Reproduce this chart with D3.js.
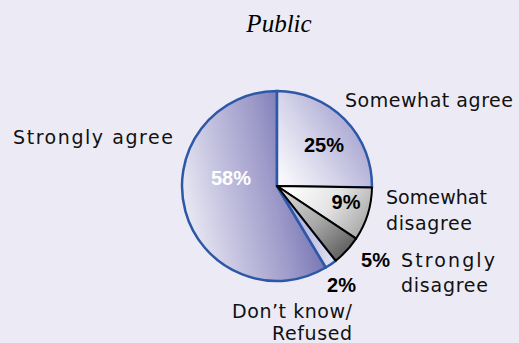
<!DOCTYPE html>
<html>
<head>
<meta charset="utf-8">
<script src="https://cdn.jsdelivr.net/npm/d3@7"></script>
<style>
  html, body { margin: 0; padding: 0; background: #ecebf5; }
  svg { display: block; }
</style>
</head>
<body>
<svg id="chart" width="519" height="343"></svg>
<script>
// ---- data ----
const title = "Public";
const categories = ["Somewhat agree", "Somewhat disagree", "Strongly disagree", "Don\u2019t know/ Refused", "Strongly agree"];
const values = [25, 9, 5, 2, 58];
const valueLabels = ["25%", "9%", "5%", "2%", "58%"];

// ---- layout / style ----
const W = 519, H = 343;
const cx = 277, cy = 186, R = 95;

const svg = d3.select("#chart");
svg.append("rect").attr("width", W).attr("height", H).attr("fill", "#ecebf5");

const defs = svg.append("defs");
const grads = [
  { id: "g0", x1: 0, y1: 1, x2: 1, y2: 0.35, stops: [[0, "#ffffff"], [0.45, "#d6d5ea"], [1, "#9e9ccb"]] },
  { id: "g1", x1: 0, y1: 0.3, x2: 1, y2: 0.7, stops: [[0, "#ffffff"], [0.5, "#e4e4e4"], [1, "#a6a6a6"]] },
  { id: "g2", x1: 0, y1: 0, x2: 1, y2: 1, stops: [[0, "#e2e2e2"], [0.5, "#a8a8a8"], [1, "#4a4a4a"]] },
  { id: "g3", x1: 0, y1: 0, x2: 1, y2: 0, stops: [[0, "#a5a4d2"], [0.5, "#bdbce0"], [1, "#e6e6f3"]] },
  { id: "g4", x1: 0, y1: 0.65, x2: 1, y2: 0.35, stops: [[0, "#ececf5"], [0.3, "#c4c2df"], [0.6, "#9f9bca"], [0.85, "#7876b4"], [1, "#4a5ea6"]] }
];
grads.forEach(g => {
  const lg = defs.append("linearGradient").attr("id", g.id)
    .attr("x1", g.x1).attr("y1", g.y1).attr("x2", g.x2).attr("y2", g.y2);
  g.stops.forEach(s => lg.append("stop").attr("offset", s[0]).attr("stop-color", s[1]));
});
const strokes = ["#2d57a7", "#000000", "#000000", "#2d57a7", "#2d57a7"];

const pie = d3.pie().sort(null).value(d => d.value);
const data = categories.map((c, i) => ({ cat: c, value: values[i], label: valueLabels[i], i }));
const arcs = pie(data);
const arc = d3.arc().innerRadius(0).outerRadius(R);

const g = svg.append("g").attr("transform", `translate(${cx},${cy})`);
// draw blue-outlined slices first, black-outlined ones on top
const order = [4, 0, 3, 1, 2];
g.selectAll("path.slice").data(order.map(i => arcs[i])).enter().append("path")
  .attr("class", "slice")
  .attr("d", arc)
  .attr("fill", d => `url(#g${d.data.i})`)
  .attr("stroke", d => strokes[d.data.i])
  .attr("stroke-width", d => strokes[d.data.i] === "#000000" ? 2 : 2.5)
  .attr("stroke-linejoin", "round");

// title
svg.append("text").attr("x", 279).attr("y", 32)
  .attr("text-anchor", "middle")
  .style("font-family", "'Liberation Serif', 'Times New Roman', serif")
  .style("font-style", "italic").style("font-size", "25px").attr("fill", "#000")
  .text(title);

// percent labels (offsets relative to pie centre)
const pctPos = [
  { dx: 47, dy: -34, anchor: "middle", fill: "#000" },
  { dx: 69, dy: 23, anchor: "middle", fill: "#000" },
  { dx: 113, dy: 81, anchor: "end", fill: "#000" },
  { dx: 79, dy: 106, anchor: "end", fill: "#000" },
  { dx: -46, dy: -1, anchor: "middle", fill: "#fff" }
];
g.selectAll("text.pct").data(arcs).enter().append("text")
  .attr("class", "pct")
  .attr("x", d => pctPos[d.data.i].dx)
  .attr("y", d => pctPos[d.data.i].dy)
  .attr("text-anchor", d => pctPos[d.data.i].anchor)
  .attr("fill", d => pctPos[d.data.i].fill)
  .style("font-family", "'Liberation Sans', Arial, sans-serif")
  .style("font-weight", "bold").style("font-size", "20px")
  .text(d => d.data.label);

// category labels (text, line offsets, and rendered widths)
const catLayout = [
  { dx: 68, dy: -79, anchor: "start", lines: ["Somewhat agree"], widths: [168], gap: 0 },
  { dx: 109, dy: 18, anchor: "start", lines: ["Somewhat", "disagree"], widths: [101, 86], gap: 25.5 },
  { dx: 124, dy: 81, anchor: "start", lines: ["Strongly", "disagree"], widths: [94, 87], gap: 25 },
  { dx: 75, dy: 132, anchor: "end", lines: ["Don\u2019t know/", "Refused"], widths: [120, 80], gap: 21.5 },
  { dx: -264, dy: -42, anchor: "start", lines: ["Strongly agree"], widths: [160], gap: 0 }
];
arcs.forEach(d => {
  const L = catLayout[d.data.i];
  L.lines.forEach((ln, k) => {
    g.append("text")
      .attr("x", L.dx).attr("y", L.dy + k * L.gap)
      .attr("text-anchor", L.anchor)
      .attr("fill", "#111")
      .attr("textLength", L.widths[k])
      .attr("lengthAdjust", "spacing")
      .style("font-family", "'DejaVu Sans', Verdana, sans-serif")
      .style("font-size", "19px")
      .text(ln);
  });
});
</script>
</body>
</html>
